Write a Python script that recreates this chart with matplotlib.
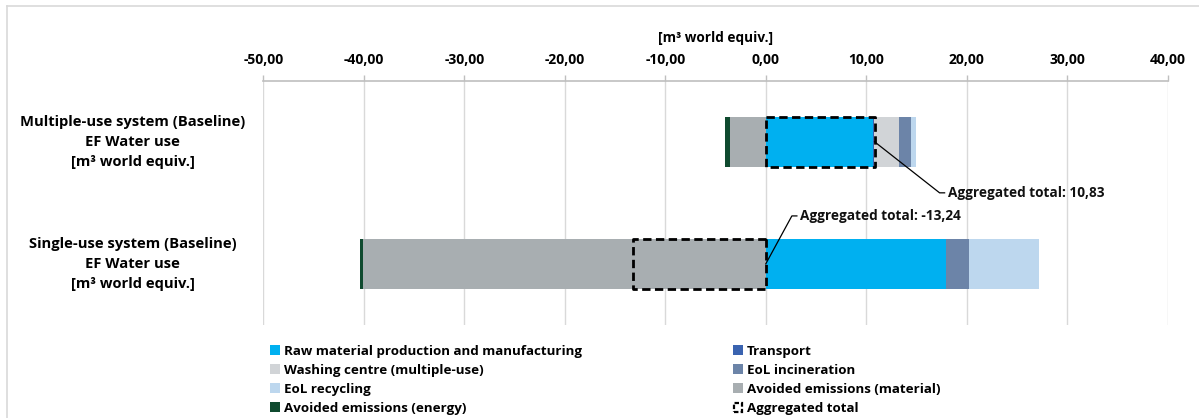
import matplotlib
matplotlib.use("Agg")
import matplotlib.pyplot as plt
from matplotlib.patches import Patch, Rectangle
from matplotlib.lines import Line2D
from matplotlib.ticker import FuncFormatter, MultipleLocator
from matplotlib.legend_handler import HandlerPatch

plt.rcParams['font.family'] = ['Open Sans', 'DejaVu Sans']
plt.rcParams['font.weight'] = 'bold'

# --- data -------------------------------------------------------------
systems = [
    "Multiple-use system (Baseline)\nEF Water use\n[m³ world equiv.]",
    "Single-use system (Baseline)\nEF Water use\n[m³ world equiv.]",
]
raw_material = [10.70, 17.95]
transport = [0.03, 0.03]
washing_centre = [2.50, 0.00]
eol_incineration = [1.20, 2.20]
eol_recycling = [0.50, 7.00]
avoided_material = [-3.55, -40.05]
avoided_energy = [-0.55, -0.34]
aggregated_total = [10.83, -13.24]
total_labels = ["Aggregated total: 10,83", "Aggregated total: -13,24"]

positive_series = [
    ("Raw material production and manufacturing", raw_material, "#00B0F0"),
    ("Transport", transport, "#3A63B0"),
    ("Washing centre (multiple-use)", washing_centre, "#D1D4D7"),
    ("EoL incineration", eol_incineration, "#6C84A8"),
    ("EoL recycling", eol_recycling, "#BDD7EE"),
]
negative_series = [
    ("Avoided emissions (material)", avoided_material, "#A8AEB1"),
    ("Avoided emissions (energy)", avoided_energy, "#0F4A2F"),
]

# --- figure -----------------------------------------------------------
W, H = 1199, 418
fig = plt.figure(figsize=(W / 100, H / 100), dpi=100)
ax = fig.add_axes([263.3 / W, 1 - 325 / H, (1167.7 - 263.3) / W, (325 - 80.7) / H])

# chart-area frame
fig.add_artist(Line2D([7 / W, 1], [1 - 6 / H, 1 - 6 / H], transform=fig.transFigure,
                      color="#D9D9D9", lw=1.2))
fig.add_artist(Line2D([7 / W, 7 / W], [0, 1 - 6 / H], transform=fig.transFigure,
                      color="#D9D9D9", lw=1.2))

ypos = list(range(len(systems)))
bar_h = 0.41

handles = {}
for i, y in enumerate(ypos):
    left = 0.0
    for name, vals, col in positive_series:
        ax.barh(y, vals[i], left=left, height=bar_h, color=col, zorder=2)
        handles[name] = Patch(facecolor=col)
        left += vals[i]
    left = 0.0
    for name, vals, col in negative_series:
        ax.barh(y, vals[i], left=left, height=bar_h, color=col, zorder=2)
        handles[name] = Patch(facecolor=col)
        left += vals[i]
    # aggregated total box
    ax.barh(y, aggregated_total[i], left=0, height=bar_h, fill=False,
            edgecolor="black", linestyle=(0, (3, 1.6)), linewidth=2.0,
            joinstyle="round", zorder=3)

# leader lines (from the box's right edge) and total labels
label_pos = [(18.1, 0.418), (3.4, 0.607)]
for i, (xt, yt) in enumerate(label_pos):
    x0 = max(0.0, aggregated_total[i])
    ax.plot([x0, xt - 0.8, xt - 0.3], [ypos[i], yt, yt],
            color="black", lw=0.9, zorder=4)
    ax.text(xt, yt, total_labels[i], ha="left", va="center",
            fontsize=9.8, fontweight="bold", color="#111111", zorder=5)

# axes styling
ax.set_xlim(-50, 40)
ax.set_ylim(1.5, -0.5)
ax.xaxis.set_major_locator(MultipleLocator(10))
ax.xaxis.set_major_formatter(FuncFormatter(lambda v, p: f"{v:.2f}".replace(".", ",")))
ax.xaxis.tick_top()
ax.xaxis.set_label_position("top")
ax.set_xlabel("[m³ world equiv.]", fontsize=9.8, fontweight="bold", labelpad=8)
ax.tick_params(axis="x", direction="out", length=4, color="#BFBFBF", width=1,
               labelsize=10, pad=6)
ax.set_yticks([])

# category labels, centred in the left margin
for y, name in zip(ypos, systems):
    ax.text(-0.1445, y, name, transform=ax.get_yaxis_transform(), ha="center",
            va="center", multialignment="center", fontsize=10.6,
            fontweight="bold", linespacing=1.55)

ax.grid(axis="x", color="#D9D9D9", lw=1, zorder=0)
ax.set_axisbelow(True)
for s in ["right", "bottom", "left"]:
    ax.spines[s].set_visible(False)
ax.spines["top"].set_color("#BFBFBF")
ax.spines["top"].set_linewidth(1.2)


class DashedBoxHandler(HandlerPatch):
    def create_artists(self, legend, orig_handle, xdescent, ydescent, width, height,
                       fontsize, trans):
        r = Rectangle((-xdescent + 1, -ydescent + 0.5), width - 2, height - 1,
                      fill=False, edgecolor="black", linestyle=(0, (2, 1)),
                      linewidth=1.6, transform=trans)
        return [r]


agg_handle = Patch(fill=False, edgecolor="black")
col1 = ["Raw material production and manufacturing", "Washing centre (multiple-use)",
        "EoL recycling", "Avoided emissions (energy)"]
col2 = ["Transport", "EoL incineration", "Avoided emissions (material)"]

leg_kw = dict(frameon=False, fontsize=9.6, handlelength=0.75, handleheight=0.75,
              handletextpad=0.3, labelspacing=0.45, borderaxespad=0, borderpad=0)
leg1 = fig.legend([handles[n] for n in col1], col1, loc="upper left",
                  bbox_to_anchor=(270 / W, 1 - 345 / H), **leg_kw)
leg2 = fig.legend([handles[n] for n in col2] + [agg_handle], col2 + ["Aggregated total"],
                  loc="upper left", bbox_to_anchor=(733 / W, 1 - 345 / H),
                  handler_map={agg_handle: DashedBoxHandler()}, **leg_kw)
for lg in (leg1, leg2):
    for t in lg.get_texts():
        t.set_fontweight("bold")

fig.savefig("out.png", dpi=100)
